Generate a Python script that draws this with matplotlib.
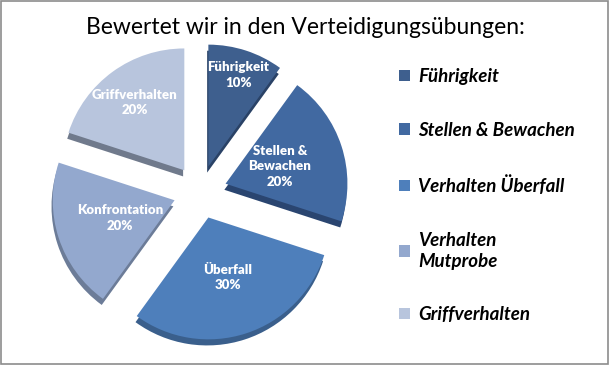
import numpy as np
import matplotlib
matplotlib.use("Agg")
import matplotlib.pyplot as plt
from matplotlib.patches import Rectangle

title = "Bewertet wir in den Verteidigungsübungen:"
legend_labels = ["Führigkeit", "Stellen & Bewachen", "Verhalten Überfall",
                 "Verhalten\nMutprobe", "Griffverhalten"]
slice_labels = ["Führigkeit", "Stellen &\nBewachen", "Überfall", "Konfrontation", "Griffverhalten"]
values = [10, 20, 30, 20, 20]
colors = ["#3E5F8E", "#4169A1", "#4E7FBB", "#93A8CE", "#B8C5DD"]
shadow_colors = ["#2A4266", "#2A4570", "#3A5F8C", "#6C7C98", "#707A8C"]
label_dist = [0.79, 0.47, 0.52, 0.47, 0.69]

plt.rcParams['font.family'] = ['Lato', 'DejaVu Sans']

fig = plt.figure(figsize=(6.1, 3.65), dpi=100)
fig.patch.set_facecolor("white")
fig.add_artist(Rectangle((0.002, 0.003), 0.995, 0.993, transform=fig.transFigure,
                         fill=False, edgecolor="#8C8C8C", linewidth=1.2))

ax = fig.add_axes([0.068, 0.040, 0.52, 0.868])
explode = [0.22] * len(values)

# depth / side layer
sw, _ = ax.pie(values, colors=shadow_colors, startangle=90, counterclock=False,
               explode=explode, radius=1.0, center=(-0.01, -0.05),
               wedgeprops=dict(linewidth=0))
# main pie
wedges, texts = ax.pie(values, colors=colors, startangle=90, counterclock=False,
                       explode=explode, radius=1.0, center=(0, 0),
                       wedgeprops=dict(linewidth=0))

for w, name, v, d, e in zip(wedges, slice_labels, values, label_dist, explode):
    ang = np.deg2rad((w.theta1 + w.theta2) / 2)
    cx, cy = w.center
    ax.text(cx + d * np.cos(ang), cy + d * np.sin(ang), f"{name}\n{v}%",
            color="white", fontsize=9.5, fontweight="heavy", ha="center", va="center",
            linespacing=1.35)

ax.set_xlim(-1.3, 1.3)
ax.set_ylim(-1.3, 1.3)
ax.set_aspect("equal")
ax.axis("off")

fig.text(0.5, 0.925, title, ha="center", va="center", fontsize=16.5)

leg = fig.legend(wedges, legend_labels, loc="upper left",
                 bbox_to_anchor=(0.627, 0.86), frameon=False,
                 prop=dict(size=13.5, weight="bold", style="italic"),
                 handlelength=0.55, handleheight=0.55, handletextpad=0.45,
                 labelspacing=1.95)
for t in leg.get_texts():
    t.set_linespacing(1.3)

fig.savefig("out.png", dpi=100)
